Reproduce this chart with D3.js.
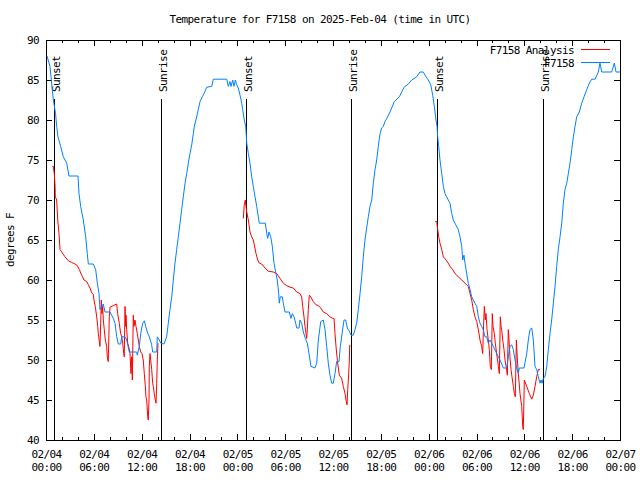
<!DOCTYPE html>
<html><head><meta charset="utf-8">
<script src="https://cdn.jsdelivr.net/npm/d3@7"></script>
<style>
html,body{margin:0;padding:0;background:#fff;}
svg{display:block;}
text{font-family:"DejaVu Sans Mono","Liberation Mono",monospace;font-size:11px;letter-spacing:-0.6px;fill:#000;}
</style></head>
<body>
<svg id="chart" width="640" height="480"></svg>
<script>
// ---- data (hours since 2025-02-04 00:00 UTC) ----
const titleText = "Temperature for F7158 on 2025-Feb-04 (time in UTC)";
const yLabel = "degrees F";
const seriesNames = ["F7158 Analysis", "F7158"];
const yTicks = [40,45,50,55,60,65,70,75,80,85,90];

const obsHours = [0.13,0.5,0.67,0.92,1.2,1.34,1.5,1.84,2.17,2.6,2.88,4.01,4.14,4.35,4.68,4.98,5.18,5.31,5.94,6.23,6.44,6.65,6.77,6.99,7.19,7.4,8.03,8.44,8.66,8.87,9.07,9.37,9.5,9.91,10.12,10.45,11.38,11.45,11.7,11.88,12.13,12.33,12.51,12.71,12.96,13.26,13.38,13.89,13.96,14.21,14.39,14.8,15.14,15.34,15.55,15.77,15.97,16.18,16.39,16.6,16.81,17.02,17.22,17.44,17.65,17.85,18.06,18.28,18.48,18.6,18.9,19.1,19.32,19.61,19.82,20.16,20.79,20.99,22.67,22.87,23.08,23.21,23.42,23.58,23.75,23.92,24.12,24.34,24.55,24.67,24.87,25.05,25.18,25.38,25.59,25.8,26.0,26.22,26.43,26.63,26.76,27.51,27.69,27.81,27.97,28.19,28.39,28.6,28.81,29.01,29.19,29.26,29.39,29.64,29.77,29.98,30.52,30.73,30.9,31.11,31.32,31.45,31.74,31.86,32.07,32.28,32.53,32.78,32.99,33.24,33.74,33.96,34.16,34.46,34.78,35.0,35.21,35.41,35.62,35.84,36.04,36.25,36.46,36.75,36.92,37.17,37.38,37.59,37.79,38.05,38.26,38.55,38.76,38.97,39.17,39.39,39.6,39.8,40.01,40.22,40.43,40.64,40.86,41.06,41.27,41.48,41.68,41.9,42.11,42.31,42.52,42.81,43.15,43.36,43.69,44.32,44.62,44.91,45.45,45.87,46.5,46.91,47.33,47.67,47.96,48.26,48.51,48.71,48.92,49.05,49.13,49.26,49.42,49.64,49.84,50.05,50.26,50.46,50.68,50.89,51.09,51.3,51.72,51.93,52.15,52.27,52.43,52.56,52.77,52.97,53.19,53.4,53.6,53.81,54.03,54.23,54.44,54.65,54.85,55.07,55.28,55.48,55.69,55.91,56.11,56.53,56.95,57.37,57.79,57.99,58.2,58.42,58.62,58.83,59.04,59.25,59.37,59.96,60.3,60.5,60.71,60.93,61.13,61.34,61.55,61.75,61.97,62.09,62.22,62.38,62.59,62.81,63.01,63.22,63.43,63.64,63.85,64.06,64.26,64.48,64.69,64.89,65.1,65.32,65.52,65.73,65.95,66.15,66.36,66.57,66.9,67.2,67.49,67.83,68.15,68.45,68.87,69.28,69.49,69.71,70.96,71.29,71.5,72];
const obsTemps = [88,86.7,85,82.5,80.8,79.2,77.9,76.7,75.4,74.6,73,73,70.8,69.2,67.5,65.4,63.3,62,62,61.3,59.6,58.3,56.3,56.7,57,56,56,55.2,54.6,52.9,52,52,52.9,52.9,52.5,51,51,50.6,51.7,53.3,54.6,54.9,54.2,53.5,52.9,51.9,51,51,52.9,52.5,52.1,52,52.9,54.6,56.3,57.9,60,62.1,63.8,65.4,67.1,68.8,70.4,72.1,73.3,74.6,75.8,76.9,78.3,79.2,80.4,81.3,82.3,82.9,83.3,84.1,84.2,85.1,85.1,84.2,84.8,84.2,85,84.2,85,84.4,84,83.1,82.1,81.3,80,79.2,77.1,75.8,74.6,72.9,71.7,70.4,69.2,67.9,67.1,67.1,65.8,65.2,66,65.4,64.2,62.1,61,60,58.3,57.1,57.9,57.9,57.1,56,56,55.2,55.8,55.4,54.6,54,54,55,54.6,53.5,52.7,52.1,50.8,49.2,49,49.6,52.5,54.8,55,53.8,51.7,49.6,48.1,47.1,47.1,48.3,49.8,49.8,51.7,53.5,55,55,54,53.6,53.1,53.1,53.8,54.6,56.3,58.3,60.4,62.9,65,66.5,67.9,69.2,70,72.1,73.8,75,76.7,78.3,79,79.2,79.8,80.3,81,81.5,82.3,82.9,83.5,84.1,84.5,85,85.4,86,86,85.4,85,84.4,83.1,81.7,80,79.2,77.9,76.7,75,73.3,71.7,70.8,70.4,70,69.6,68.3,67.5,67.1,66.3,65.4,64.2,62.5,63.1,62.1,60.8,59.6,58.8,57.9,57.5,57.1,56.7,55.4,54.6,54.2,53.8,52.9,52.9,52.1,52.5,52.1,51.7,50.8,50,49,49,50.4,51.7,51.9,51.3,50,49,48.3,49,49,50.8,52.5,53.8,54,52.5,49.2,48.8,47.9,47.1,47.5,47.1,47.7,47.9,49.2,51.3,53.3,55,57.1,59.2,61.7,63.8,65.4,67.1,69.6,71.3,72.1,73.3,74.6,76.3,77.9,79.2,80.4,81,82.1,82.9,83.8,84.6,85.1,85.1,86,87.1,86,86,87.1,86,86];

// analysis: three separate nights
const anaHours1 = [0.79,0.92,1.04,1.13,1.17,1.34,1.47,1.63,1.76,1.97,2.38,2.8,3.22,3.64,3.93,4.18,4.48,4.77,5.11,5.31,5.52,5.73,5.93,6.02,6.18,6.36,6.49,6.56,6.69,6.77,6.86,6.94,7.02,7.11,7.19,7.31,7.44,7.61,7.69,7.81,7.94,8.03,8.44,8.66,8.87,8.99,9.19,9.37,9.5,9.62,9.75,9.82,9.91,10.0,10.04,10.12,10.25,10.37,10.54,10.66,10.75,10.83,10.95,11.04,11.16,11.29,11.45,11.58,11.7,11.88,12.04,12.2,12.33,12.46,12.54,12.63,12.76,12.83,12.92,12.96,13.05,13.13,13.26,13.38,13.46,13.58,13.71,13.8,13.89,13.96,14.05];
const anaTemps1 = [74.2,74.2,73.3,71.9,70.4,70,67.5,65.8,63.8,63.5,62.9,62.4,62.2,62,61.8,61.3,60.6,60,59.8,59.4,59,58.4,58.2,57.5,56.7,55.4,54.2,53.3,52.3,51.7,54.6,57.5,55.8,56.7,55,53.8,52.5,51.7,50.4,49.8,55.4,56.6,56.8,56.9,57,55.8,54.6,53.3,52.9,52.1,50.8,50.4,56.7,54.2,55.6,53.8,52.1,51.7,50.8,48.3,50.4,47.5,55.6,54.2,55,54.2,53.3,52.5,51.7,51,50.8,50,48.3,46.7,45.4,45,42.9,42.5,45,49.2,50.8,50,48.8,47.1,46.7,45.8,45,44.6,47.1,50,52.1];
const anaHours2 = [24.75,24.87,25.0,25.09,25.18,25.38,25.59,25.8,26.0,26.13,26.34,26.56,26.76,27.06,27.47,27.89,28.51,28.94,29.35,29.77,30.19,30.61,31.02,31.45,31.86,32.07,32.2,32.36,32.49,32.61,32.7,32.78,32.9,33.03,33.2,33.53,33.87,34.16,34.46,34.78,35.21,35.62,35.96,36.13,36.25,36.38,36.54,36.79,37.09,37.29,37.51,37.63,37.76,37.85,37.97,38.05,38.1];
const anaTemps2 = [67.7,69.4,70,69.2,68.5,67.5,66,65.4,65,64.4,63.3,62.5,62.1,62,61.5,61.1,61,60.8,60.2,59.6,59.3,59.1,59,58.5,58.3,57.9,56.7,55.4,54.2,53.3,52.7,53.8,56.3,58.1,57.9,57.3,56.9,56.8,56.5,56,55.8,55.4,55.2,55.2,53.3,51.7,50,48.1,47.7,46.7,45.8,45,44.4,46.3,48.3,50,51.9];
const anaHours3 = [48.8,49.01,49.13,49.26,49.42,49.64,49.84,50.18,50.46,50.68,51.02,51.3,51.72,52.15,52.56,52.97,53.19,53.4,53.6,53.81,54.03,54.23,54.44,54.65,54.78,54.85,54.98,55.11,55.19,55.32,55.48,55.61,55.73,55.86,55.98,56.07,56.24,56.36,56.53,56.74,56.86,56.99,57.08,57.16,57.29,57.45,57.58,57.74,57.87,57.99,58.08,58.2,58.33,58.45,58.62,58.75,58.87,59.0,59.13,59.25,59.46,59.67,59.8,59.87,60.0,60.3,60.63,60.93,61.13,61.34,61.55,61.75,61.97];
const anaTemps3 = [67.3,67.3,66.3,65.4,64.6,63.8,62.9,62.5,62.1,61.7,61.3,60.8,60.4,60,59.6,59.2,58.3,57.5,56.3,55.4,54.8,53.8,52.5,51.7,50.8,53.3,56.7,55,55.8,53.8,52.5,51.3,49.2,48.8,55.8,54.2,53.3,52.1,50.8,49.2,48.3,55.4,54.2,53.8,52.5,51.3,50,49,48.1,53.8,52.5,50.4,48.8,47.9,46.7,45.8,45.4,52.5,50,48.3,45.8,44.2,41.7,41.3,47.5,46.7,45.8,45.1,45.6,46.7,47.9,48.8,48.8];

const sunHours = [1.04,14.37,25.13,38.3,49.09,62.39];
const sunLabels = ["Sunset","Sunrise","Sunset","Sunrise","Sunset","Sunrise"];

// ---- chart ----
const svg = d3.select("#chart");
const L = 46, R = 620, T = 40, B = 440;
const t0 = Date.UTC(2025,1,4);
const toDate = h => new Date(t0 + h*3600e3);
const x = d3.scaleUtc().domain([toDate(0), toDate(72)]).range([L, R]);
const y = d3.scaleLinear().domain([40, 90]).range([B, T]);

// title
svg.append("text").attr("x", 320).attr("y", 23).attr("text-anchor","middle").text(titleText);
// y label
svg.append("text").attr("transform","translate(14,240) rotate(-90)").attr("text-anchor","middle").text(yLabel);

// sun lines
const sunG = svg.append("g");
sunHours.forEach((h,i)=>{
  const sx = Math.round(x(toDate(h))) + 0.5;
  sunG.append("line").attr("x1",sx).attr("x2",sx).attr("y1",B).attr("y2",y(82.6))
    .attr("stroke","#000").attr("stroke-width",1).attr("shape-rendering","crispEdges");
  sunG.append("text").attr("transform",`translate(${sx+5},92) rotate(-90)`).attr("text-anchor","start").text(sunLabels[i]);
});

// axes
const majorT = d3.utcHour.every(6), minorT = d3.utcHour.every(2);
const ax = (g, axis) => { g.call(axis); g.select(".domain").remove(); g.selectAll("line").attr("shape-rendering","crispEdges"); return g; };
ax(svg.append("g").attr("transform",`translate(0,${B})`), d3.axisBottom(x).ticks(minorT).tickSize(-3).tickFormat(""));
ax(svg.append("g").attr("transform",`translate(0,${T})`), d3.axisTop(x).ticks(minorT).tickSize(-3).tickFormat(""));
ax(svg.append("g").attr("transform",`translate(0,${T})`), d3.axisTop(x).ticks(majorT).tickSize(-6).tickFormat(""));
const xb = ax(svg.append("g").attr("transform",`translate(0,${B})`), d3.axisBottom(x).ticks(majorT).tickSize(-6).tickFormat(d3.utcFormat("%m/%d")));
xb.selectAll(".tick text").each(function(d){
  const t = d3.select(this);
  t.text(null).attr("y",0).attr("dy",null).attr("font-family",null).attr("font-size",null);
  t.append("tspan").attr("x",0).attr("y",18).text(d3.utcFormat("%m/%d")(d));
  t.append("tspan").attr("x",0).attr("y",30.5).text(d3.utcFormat("%H:%M")(d));
});
const yl = ax(svg.append("g").attr("transform",`translate(${L},0)`), d3.axisLeft(y).tickValues(yTicks).tickSize(-6).tickPadding(7));
yl.selectAll("text").attr("font-family",null).attr("font-size",null);
ax(svg.append("g").attr("transform",`translate(${R},0)`), d3.axisRight(y).tickValues(yTicks).tickSize(-6).tickFormat(""));
svg.selectAll(".tick line").attr("stroke","#000");

// frame
svg.append("rect").attr("x",L+0.5).attr("y",T+0.5).attr("width",R-L).attr("height",B-T)
  .attr("fill","none").attr("stroke","#000").attr("shape-rendering","crispEdges");

// data lines
const line = d3.line().x(d=>x(toDate(d[0]))).y(d=>y(d[1]));
const zip = (a,b) => a.map((h,i)=>[h,b[i]]);
[ [anaHours1,anaTemps1],[anaHours2,anaTemps2],[anaHours3,anaTemps3] ].forEach(([h,t])=>{
  svg.append("path").datum(zip(h,t)).attr("d",line).attr("fill","none").attr("stroke","#ff0000").attr("stroke-width",1);
});
svg.append("path").datum(zip(obsHours,obsTemps)).attr("d",line).attr("fill","none").attr("stroke","#0080ff").attr("stroke-width",1);

// legend
const lg = svg.append("g");
[["#ff0000",49.5],["#0080ff",62.5]].forEach(([c,ly],i)=>{
  lg.append("text").attr("x",574).attr("y",ly+4).attr("text-anchor","end").text(seriesNames[i]);
  lg.append("line").attr("x1",581).attr("x2",610).attr("y1",ly).attr("y2",ly).attr("stroke",c).attr("stroke-width",1).attr("shape-rendering","crispEdges");
});
</script>
</body></html>
